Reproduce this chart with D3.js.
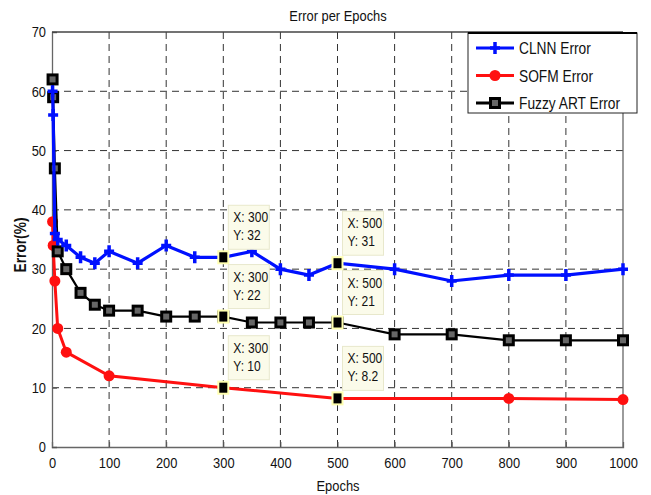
<!DOCTYPE html>
<html>
<head>
<meta charset="utf-8">
<script src="https://cdn.jsdelivr.net/npm/d3@7"></script>
<style>
  body { margin: 0; background: #fff; }
  text { font-family: "Liberation Sans Narrow", "Arial Narrow", "Liberation Sans", Arial, sans-serif; }
</style>
</head>
<body>
<script>
'use strict';

// chart values
const clnnEpochs = [1, 2, 5, 10, 25, 50, 75, 100, 150, 200, 250, 300, 350, 400, 450, 500, 600, 700, 800, 900, 1000];
const clnnError  = [60, 56, 36, 35, 34, 32, 31, 33, 31, 34, 32, 32, 33, 30, 29, 31, 30, 28, 29, 29, 30];

const fuzzyEpochs = [1, 2, 5, 10, 25, 50, 75, 100, 150, 200, 250, 300, 350, 400, 450, 500, 600, 700, 800, 900, 1000];
const fuzzyError  = [62, 59, 47, 33, 30, 26, 24, 23, 23, 22, 22, 22, 21, 21, 21, 21, 19, 19, 18, 18, 18];

const sofmEpochs = [1, 2, 5, 10, 25, 100, 300, 500, 800, 1000];
const sofmError  = [38, 34, 28, 20, 16, 12, 10, 8.2, 8.2, 8];

const xTicks = [0, 100, 200, 300, 400, 500, 600, 700, 800, 900, 1000];
const yTicks = [0, 10, 20, 30, 40, 50, 60, 70];

const tipX = [300, 300, 300, 500, 500, 500];
const tipY = [32, 22, 10, 31, 21, 8.2];

const legendNames = ["CLNN Error", "SOFM Error", "Fuzzy ART Error"];

(function() {
  const narrow = 0.86;

  let svg = d3.select('body').append('svg')
    .attr('width', 651)
    .attr('height', 495);

  let x = d3.scaleLinear().domain([0, 1000]).range([52, 623]);
  let y = d3.scaleLinear().domain([0, 70]).range([447, 32]);

  // condensed text helper
  function label(parent, tx, ty, str, size, anchor, rotate) {
    let g = parent.append('g')
      .attr('transform', 'translate(' + tx + ',' + ty + ')' + (rotate ? 'rotate(' + rotate + ')' : '') + 'scale(' + narrow + ',1)');
    return g.append('text')
      .attr('font-size', size)
      .attr('fill', '#111')
      .attr('text-anchor', anchor || 'start')
      .text(str);
  }

  // grid
  let grid = svg.append('g')
    .attr('stroke', '#333')
    .attr('stroke-width', 1)
    .attr('stroke-dasharray', '7,5');
  grid.selectAll('.vg').data(xTicks.slice(1, -1)).enter().append('line')
    .attr('x1', d => x(d)).attr('x2', d => x(d))
    .attr('y1', y(70)).attr('y2', y(0));
  grid.selectAll('.hg').data(yTicks.slice(1, -1)).enter().append('line')
    .attr('y1', d => y(d)).attr('y2', d => y(d))
    .attr('x1', x(0)).attr('x2', x(1000));

  // axes
  let xAxis = d3.axisBottom(x).tickValues(xTicks).tickSize(-5).tickPadding(10).tickFormat(d3.format('d'));
  let gx = svg.append('g').attr('transform', 'translate(0,' + y(0) + ')').call(xAxis);
  let yAxis = d3.axisLeft(y).tickValues(yTicks).tickSize(-5).tickPadding(7);
  let gy = svg.append('g').attr('transform', 'translate(' + x(0) + ',0)').call(yAxis);
  [gx, gy].forEach(g => {
    g.select('.domain').attr('stroke', '#666').attr('stroke-width', 1.3);
    g.selectAll('.tick line').attr('stroke', '#555');
    g.selectAll('.tick text').attr('font-size', 15).attr('fill', '#111')
      .attr('transform', 'scale(' + narrow + ',1)')
      .style('font-family', '"Liberation Sans Narrow", "Arial Narrow", "Liberation Sans", sans-serif');
  });
  svg.append('line')
    .attr('x1', x(0)).attr('x2', x(1000)).attr('y1', y(70)).attr('y2', y(70))
    .attr('stroke', '#444').attr('stroke-width', 1.3);
  svg.append('line')
    .attr('x1', x(1000)).attr('x2', x(1000)).attr('y1', y(70)).attr('y2', y(0))
    .attr('stroke', '#666').attr('stroke-width', 1.3);

  let line = d3.line().x(d => x(d[0])).y(d => y(d[1]));

  // SOFM
  let sofm = d3.zip(sofmEpochs, sofmError);
  svg.append('path').attr('d', line(sofm))
    .attr('fill', 'none').attr('stroke', '#ff1010').attr('stroke-width', 3);
  svg.selectAll('.sofm').data(sofm).enter().append('circle')
    .attr('cx', d => x(d[0])).attr('cy', d => y(d[1])).attr('r', 5.5)
    .attr('fill', '#ff1010');

  // Fuzzy ART
  let fuzzy = d3.zip(fuzzyEpochs, fuzzyError);
  svg.append('path').attr('d', line(fuzzy))
    .attr('fill', 'none').attr('stroke', '#000').attr('stroke-width', 2.2);
  svg.selectAll('.fuzzy').data(fuzzy).enter().append('rect')
    .attr('x', d => x(d[0]) - 4.5).attr('y', d => y(d[1]) - 4.5)
    .attr('width', 9).attr('height', 9)
    .attr('fill', '#666').attr('stroke', '#000').attr('stroke-width', 3);

  // CLNN
  let clnn = d3.zip(clnnEpochs, clnnError);
  svg.append('path').attr('d', line(clnn))
    .attr('fill', 'none').attr('stroke', '#0010ff').attr('stroke-width', 3.2);
  svg.selectAll('.clnn').data(clnn).enter().append('path')
    .attr('d', d => {
      let cx = x(d[0]), cy = y(d[1]);
      return 'M' + (cx - 5) + ',' + cy + 'H' + (cx + 5) + 'M' + cx + ',' + (cy - 6) + 'V' + (cy + 6);
    })
    .attr('stroke', '#0010ff').attr('stroke-width', 3.5);

  // data tips
  let tips = d3.zip(tipX, tipY);
  tips.forEach(d => {
    let px = x(d[0]), py = y(d[1]);
    svg.append('rect')
      .attr('x', px + 5).attr('y', py - 52)
      .attr('width', 41).attr('height', 44)
      .attr('fill', '#fbfbea').attr('stroke', '#e8e8cc').attr('stroke-width', 1);
    label(svg, px + 10, py - 35, 'X: ' + d[0], 14);
    label(svg, px + 10, py - 17, 'Y: ' + d[1], 14);
    svg.append('rect')
      .attr('x', px - 5).attr('y', py - 6)
      .attr('width', 10).attr('height', 12)
      .attr('fill', '#000').attr('stroke', '#ffffb0').attr('stroke-width', 2);
  });

  // legend
  let lg = svg.append('g');
  lg.append('rect').attr('x', 468).attr('y', 33).attr('width', 169).attr('height', 80)
    .attr('fill', '#fff').attr('stroke', '#222').attr('stroke-width', 1);
  lg.append('line').attr('x1', 468).attr('x2', 637).attr('y1', 33).attr('y2', 33)
    .attr('stroke', '#000').attr('stroke-width', 2);
  let colors = ['#0010ff', '#ff1010', '#000'];
  legendNames.forEach((name, i) => {
    let ly = 48 + i * 27.5;
    lg.append('line').attr('x1', 476).attr('x2', 514).attr('y1', ly).attr('y2', ly)
      .attr('stroke', colors[i]).attr('stroke-width', 3);
    if (i === 0) {
      lg.append('path').attr('d', 'M490,' + ly + 'H500M495,' + (ly - 6) + 'V' + (ly + 6))
        .attr('stroke', colors[i]).attr('stroke-width', 3.5);
    } else if (i === 1) {
      lg.append('circle').attr('cx', 495).attr('cy', ly).attr('r', 5.5).attr('fill', colors[i]);
    } else {
      lg.append('rect').attr('x', 490.5).attr('y', ly - 4.5).attr('width', 9).attr('height', 9)
        .attr('fill', '#666').attr('stroke', '#000').attr('stroke-width', 3);
    }
    label(lg, 519, ly + 6, name, 16);
  });

  // labels
  label(svg, 338, 21, 'Error per Epochs', 15, 'middle');
  label(svg, 338, 491, 'Epochs', 15, 'middle');
  label(svg, 26, 245, 'Error(%)', 16, 'middle', -90).attr('font-weight', 'bold');
})();
</script>
</body>
</html>
